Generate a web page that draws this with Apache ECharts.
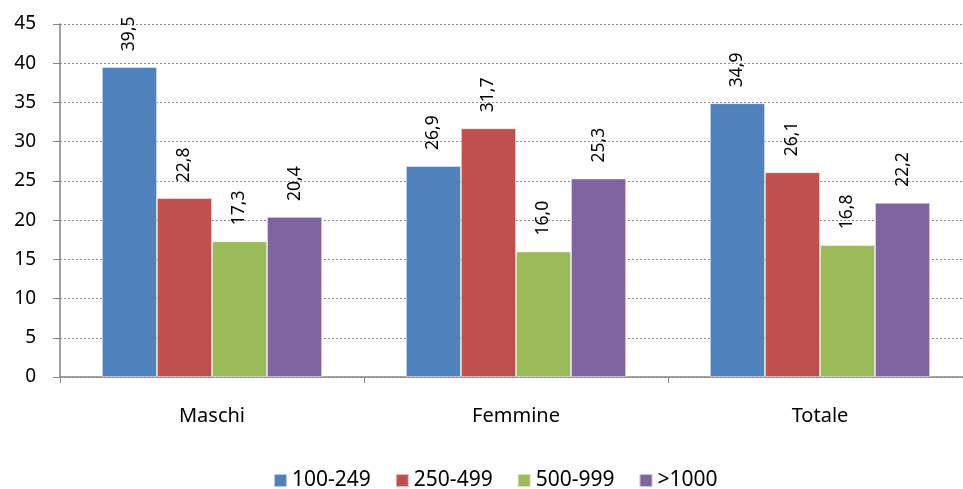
<!DOCTYPE html>
<html>
<head>
<meta charset="utf-8">
<script src="https://cdn.jsdelivr.net/npm/echarts@6/dist/echarts.min.js"></script>
<style>html,body{margin:0;padding:0;background:#fff}#c{width:963px;height:489px}</style>
</head>
<body>
<div id="c"></div>
<script>
const categories = ["Maschi", "Femmine", "Totale"];
const seriesNames = ["100-249", "250-499", "500-999", ">1000"];
const v100_249 = [39.5, 26.9, 34.9];
const v250_499 = [22.8, 31.7, 26.1];
const v500_999 = [17.3, 16.0, 16.8];
const v1000 = [20.4, 25.3, 22.2];
const colors = ["#4F81BD", "#C0504D", "#9BBB59", "#8064A2"];
const yTicks = { min: 0, max: 45, interval: 5 };

const allValues = [v100_249, v250_499, v500_999, v1000];
const font = "Noto Sans";
const chart = echarts.init(document.getElementById('c'));
chart.setOption({
  animation: false,
  textStyle: { fontFamily: font },
  grid: { left: 60, top: 24, right: -9, bottom: 112, containLabel: false, outerBoundsMode: 'none' },
  legend: {
    top: 465, left: 268, itemWidth: 13, itemHeight: 13, itemGap: 24,
    icon: 'rect',
    textStyle: { fontFamily: font, fontSize: 21, color: '#000' },
    data: seriesNames
  },
  xAxis: {
    type: 'category', data: categories,
    axisLine: { lineStyle: { color: '#868686', width: 1.5 } },
    axisTick: { show: true, length: 6, lineStyle: { color: '#868686' } },
    axisLabel: { margin: 29, fontSize: 20, color: '#000', fontFamily: font }
  },
  yAxis: {
    type: 'value', min: yTicks.min, max: yTicks.max, interval: yTicks.interval,
    axisLine: { show: true, lineStyle: { color: '#868686', width: 1.5 } },
    axisTick: { show: true, length: 7, lineStyle: { color: '#868686' } },
    axisLabel: { margin: 24, fontSize: 19, color: '#000', fontFamily: font },
    splitLine: { lineStyle: { color: '#8a8a8a', type: [2, 2], width: 1 } }
  },
  series: seriesNames.map((n, i) => ({
    name: n, type: 'bar', data: allValues[i],
    barGap: '0%', barCategoryGap: '27.6%',
    itemStyle: { color: colors[i], borderColor: 'rgba(255,255,255,0.6)', borderWidth: 0.8 },
    label: {
      show: true, position: 'top', rotate: 90, distance: 16,
      align: 'left', verticalAlign: 'middle',
      fontSize: 17.5, color: '#000', fontFamily: font,
      formatter: p => p.value.toFixed(1).replace('.', ',')
    }
  }))
});
</script>
</body>
</html>
